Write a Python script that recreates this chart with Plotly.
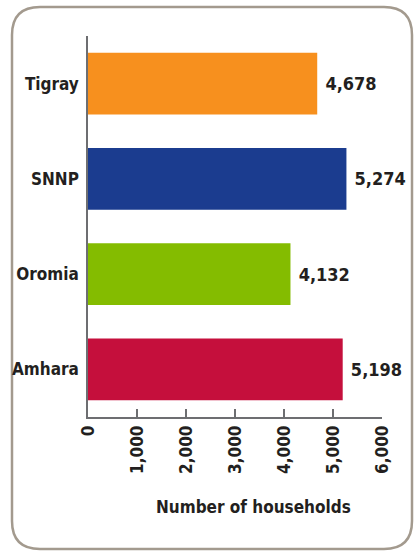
import plotly.graph_objects as go

regions = ["Tigray", "SNNP", "Oromia", "Amhara"]
households = [4678, 5274, 4132, 5198]
colors = ["#f7901e", "#1b3c8f", "#84bc00", "#c50f3c"]
tick_vals = [0, 1000, 2000, 3000, 4000, 5000, 6000]
tick_text = ["0", "1,000", "2,000", "3,000", "4,000", "5,000", "6,000"]

FONT = "Liberation Sans Narrow, DejaVu Sans Condensed, Arial Narrow, sans-serif"
TXT = "#231f20"

W, H = 414, 551
L, R, T, B = 88, 32, 36, 134
pw, ph = W - L - R, H - T - B

def px(x):
    return (x - L) / pw

def py(y):
    return (H - B - y) / ph

# rounded border in pixel coords
x0, x1, y0, y1, r = 12, 412, 7, 549, 28
pts = (
    f"M {px(x0+r)},{py(y0)} L {px(x1-r)},{py(y0)} Q {px(x1)},{py(y0)} {px(x1)},{py(y0+r)} "
    f"L {px(x1)},{py(y1-r)} Q {px(x1)},{py(y1)} {px(x1-r)},{py(y1)} "
    f"L {px(x0+r)},{py(y1)} Q {px(x0)},{py(y1)} {px(x0)},{py(y1-r)} "
    f"L {px(x0)},{py(y0+r)} Q {px(x0)},{py(y0)} {px(x0+r)},{py(y0)} Z"
)

fig = go.Figure(go.Bar(
    x=households, y=regions, orientation="h",
    marker=dict(color=colors, line=dict(width=0)),
    text=[f" <b>{v:,}</b>" for v in households], textposition="outside",
    textfont=dict(family=FONT, size=18, color=TXT),
    cliponaxis=False, width=0.65, hoverinfo="skip",
))

fig.update_layout(
    width=W, height=H, margin=dict(l=L, r=R, t=T, b=B),
    paper_bgcolor="white", plot_bgcolor="white", showlegend=False,
    font=dict(family=FONT, color=TXT),
    shapes=[dict(type="path", xref="paper", yref="paper", path=pts,
                 line=dict(color="#a39a8e", width=2.5), layer="below")],
    annotations=[dict(text="<b>Number of households</b>", xref="paper", yref="paper",
                      x=px(253), y=py(507), xanchor="center", yanchor="middle",
                      showarrow=False, font=dict(family=FONT, size=17, color=TXT))],
)
fig.update_xaxes(
    range=[0, 6000], tickvals=tick_vals, ticktext=[f"<b>{t}</b>" for t in tick_text],
    tickangle=-90, ticks="inside", ticklen=8, tickcolor="#6d6e71", tickwidth=1.5,
    showline=True, linecolor="#6d6e71", linewidth=1.5, showgrid=False, zeroline=False,
    tickfont=dict(family=FONT, size=17, color=TXT),
)
fig.update_yaxes(
    categoryorder="array", categoryarray=regions[::-1], range=[-0.5, 3.5],
    tickvals=regions, ticktext=[f"<b>{c}</b>" for c in regions],
    showline=True, linecolor="#6d6e71", linewidth=1.5, showgrid=False, ticks="",
    ticklabelstandoff=4, tickfont=dict(family=FONT, size=17, color=TXT),
)

fig.write_html("out.html", config={"displayModeBar": False},
               post_script="document.body.style.margin='0';document.body.style.overflow='hidden';")
